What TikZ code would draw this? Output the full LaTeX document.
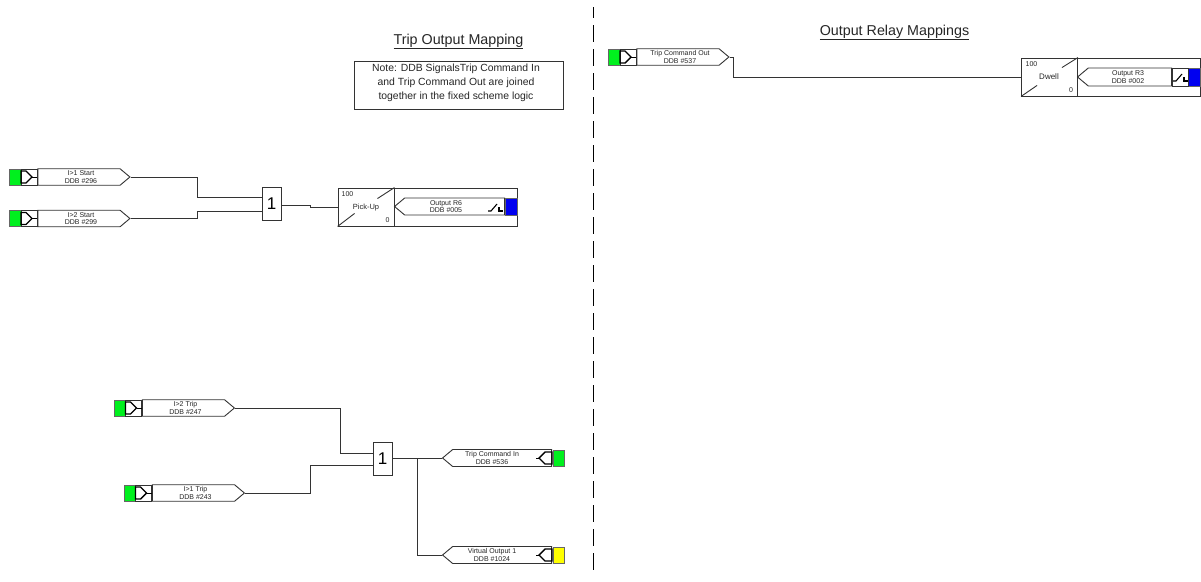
\documentclass[tikz,border=0pt]{standalone}
\usepackage{fontspec}
\setmainfont{Liberation Sans}
\usetikzlibrary{shapes.symbols}
\definecolor{ddbgreen}{RGB}{0,240,30}
\definecolor{ddbblue}{RGB}{0,0,240}
\definecolor{ddbyellow}{RGB}{255,255,0}
\tikzset{
  wire/.style={draw=black!80,line width=0.9pt},
  sigin/.style={shape=signal,signal to=east,signal pointer angle=80,draw=black!80,line width=0.9pt,inner sep=0pt,minimum height=16.5pt,anchor=west},
  sigout/.style={shape=signal,signal to=west,signal pointer angle=80,draw=black!80,line width=0.9pt,inner sep=0pt,minimum height=17pt,anchor=east},
  siglabel/.style={inner sep=0pt,font=\fontsize{7}{7.5}\selectfont,align=center,text=black!85},
  orgate/.style={draw=black!80,fill=white,line width=0.9pt,minimum width=19pt,minimum height=33pt,inner sep=0pt,font=\fontsize{17}{17}\selectfont},
  plain/.style={inner sep=0pt,text=black!85},
  timerbox/.style={draw=black!80,line width=0.9pt,minimum width=56pt,minimum height=38pt,inner sep=0pt},
  framebox/.style={draw=black!80,line width=0.9pt,minimum height=38pt,inner sep=0pt},
  swatch/.style={draw=black!60,line width=0.5pt,minimum width=11.5pt,minimum height=16pt,inner sep=0pt},
  gatebox/.style={draw=black!80,line width=0.9pt,minimum width=16pt,minimum height=16pt,inner sep=0pt},
  glyph/.style={draw=black,line width=1.4pt,line join=miter},
  divider/.style={draw=black,line width=1pt,dash pattern=on 17pt off 7pt,dash phase=6pt},
}
\begin{document}
\begin{tikzpicture}[x=1pt,y=-1pt]
\useasboundingbox (0,0) rectangle (1201,581);
\fill[white] (0,0) rectangle (1201,581);

% divider
\coordinate (dtop) at (593,7);
\coordinate (dbot) at (593,575);
\draw[divider] (dtop) -- (dbot);

% titles
\node[plain,font=\fontsize{14.3}{16}\selectfont] (t1) at (458.5,41.5) {\underline{Trip Output Mapping}};
\node[plain,font=\fontsize{14.3}{16}\selectfont] (t2) at (894.5,32.5) {\underline{Output Relay Mappings}};
\node[draw=black!80,line width=0.9pt,minimum width=209pt,minimum height=48pt,inner sep=0pt] (note) at (458.5,85) {};
\node[plain,font=\fontsize{10.4}{14.3}\selectfont,align=center] (notel) at (456,83) {Note: DDB SignalsTrip Command In\\and Trip Command Out are joined\\together in the fixed scheme logic};

% input signals: name, left x of green, centre y, text
\newcommand{\insig}[4]{%
  \node[swatch,fill=ddbgreen] (#1c) at (#2+5.75,#3) {};
  \node[gatebox] (#1g) at (#2+19.5,#3) {};
  \draw[glyph] ([shift={(-8,-6)}]#1g.center) -- ++(5,0) -- ++(6,6) -- ++(-6,6) -- ++(-5,0) -- cycle;
  \draw[glyph,line width=1pt] ([shift={(3,0)}]#1g.center) -- (#1g.east);
  \node[sigin,minimum width=92pt] (#1) at (#1g.east) {};
  \node[siglabel] (#1l) at (#2+71.5,#3) {#4};
}
\insig{a}{9.5}{177}{I>1 Start\\DDB \#296}
\insig{b}{9.5}{218.5}{I>2 Start\\DDB \#299}
\insig{c}{114}{408}{I>2 Trip\\DDB \#247}
\insig{d}{124}{493}{I>1 Trip\\DDB \#243}
\insig{e}{608.5}{57}{Trip Command Out\\DDB \#537}

% OR gates
\node[orgate] (or1) at (271.5,203.5) {1};
\node[orgate] (or2) at (382.5,458.5) {1};
\coordinate (or1a) at (262,197);
\coordinate (or1b) at (262,211);
\coordinate (or2a) at (373,453);
\coordinate (or2b) at (373,465);

% outputs (coloured ends): name, y, text, colour
\newcommand{\outsig}[4]{%
  \node[sigout,minimum width=109pt] (#1) at (552,#2) {};
  \node[siglabel] (#1l) at (492,#2) {#3};
  \node[swatch,fill=#4] (#1c) at (558.5,#2) {};
  \coordinate (#1s) at (552,#2);
  \draw[glyph] ([shift={(0,-6)}]#1s) -- ++(-7,0) -- ++(-6,6) -- ++(6,6) -- ++(7,0) -- cycle;
  \draw[glyph,line width=1pt] ([shift={(-13,0)}]#1s) -- ++(-3,0);
}
\outsig{f}{458}{Trip Command In\\DDB \#536}{ddbgreen}
\outsig{g}{555}{Virtual Output 1\\DDB \#1024}{ddbyellow}

% timers
\node[timerbox] (pu) at (366,207) {};
\node[font=\fontsize{7.5}{8}\selectfont,plain] (pul) at (366,207.5) {Pick-Up};
\node[font=\fontsize{7}{8}\selectfont,plain] (pua) at (347.5,194) {100};
\node[font=\fontsize{7}{8}\selectfont,plain] (puz) at (387.5,220) {0};
\draw[wire] (pu.north east) -- ++(-17,11);
\draw[wire] (pu.south west) -- ++(17,-13);
\node[timerbox] (dw) at (1049.5,77) {};
\node[font=\fontsize{8}{8}\selectfont,plain] (dwl) at (1049,77) {Dwell};
\node[font=\fontsize{7}{8}\selectfont,plain] (dwa) at (1031.5,64) {100};
\node[font=\fontsize{7}{8}\selectfont,plain] (dwz) at (1071,90) {0};
\draw[wire] (dw.north east) -- ++(-16,10);
\draw[wire] (dw.south west) -- ++(16,-11);

% output relay frames
\node[framebox,minimum width=123pt] (r6) at (455.5,207) {};
\node[framebox,minimum width=123.5pt] (r3) at (1139,77) {};
\node[sigout,minimum width=110pt] (h) at (505,206.5) {};
\node[siglabel] (hl) at (446,206.5) {Output R6\\DDB \#005};
\node[sigout,minimum width=94pt,minimum height=18pt] (i) at (1172,77) {};
\node[siglabel] (il) at (1128,77) {Output R3\\DDB \#002};
\node[swatch,fill=ddbblue,minimum width=12pt,minimum height=17pt] (hc) at (511,206.5) {};
\node[swatch,fill=ddbblue,minimum width=12pt,minimum height=18pt] (ic) at (1194,77) {};
\node[gatebox,minimum height=18pt] (ib) at (1180,77) {};
\coordinate (hs) at (497,207);
\coordinate (is) at (1182,77);
\foreach \n in {hs,is}{
  \draw[black,line width=1.1pt] ([shift={(-9,4)}]\n) -- ++(3,0) -- ++(6,-7);
  \draw[black,line width=1.1pt] ([shift={(2,0)}]\n) -- ++(0,4) -- ++(4,0);
}

% joints
\coordinate (ja) at (197,197);
\coordinate (jb) at (197,211);
\coordinate (jc) at (340,453);
\coordinate (jd) at (310,465);
\coordinate (jo) at (417,458);
\coordinate (jg) at (417,555);
\coordinate (je) at (733,77);
\coordinate (jp1) at (310,205);
\coordinate (jp2) at (310,207);

% wires
\draw[wire] (a.east) -- (ja |- a.east) -- (ja) -- (or1a);
\draw[wire] (b.east) -- (jb |- b.east) -- (jb) -- (or1b);
\draw[wire] (or1.east |- jp1) -- (jp1) -- (jp2) -- (pu.west);
\draw[wire] (c.east) -- (jc |- c.east) -- (jc) -- (or2a);
\draw[wire] (d.east) -- (jd |- d.east) -- (jd) -- (or2b);
\draw[wire] (or2.east |- f.west) -- (f.west);
\draw[wire] (jo) -- (jg) -- (g.west);
\draw[wire] (e.east) -- (je |- e.east) -- (je) -- (dw.west);
\end{tikzpicture}
\end{document}
